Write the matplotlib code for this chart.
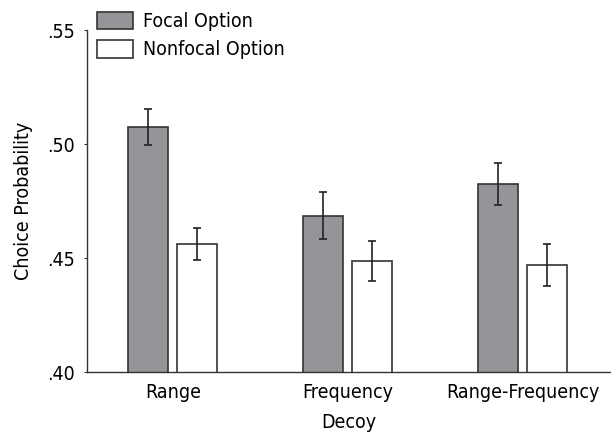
import matplotlib
matplotlib.use("Agg")
import matplotlib.pyplot as plt
import numpy as np
from matplotlib.patches import Patch

plt.rcParams['font.family'] = ['DejaVu Sans']
plt.rcParams['font.stretch'] = 'condensed'

decoys = ['Range', 'Frequency', 'Range-Frequency']
focal = [0.5075, 0.4686, 0.4826]
focal_err = [0.0080, 0.0103, 0.0092]
nonfocal = [0.4561, 0.4487, 0.4469]
nonfocal_err = [0.0070, 0.0086, 0.0091]
yticks = [0.40, 0.45, 0.50, 0.55]
ytick_labels = ['.40', '.45', '.50', '.55']

FS = 14

fig = plt.figure(figsize=(6.11, 4.38), dpi=100)
ax = fig.add_axes([87 / 611, 66 / 438, 524 / 611, 342 / 438])

x = np.arange(len(decoys))
w = 0.2286
off = 0.14
err_kw = dict(elinewidth=1.2, capthick=1.2, ecolor='#222222')
ax.bar(x - off, focal, w, yerr=focal_err, color='#939598', edgecolor='#333333',
       linewidth=1.2, capsize=3, error_kw=err_kw)
ax.bar(x + off, nonfocal, w, yerr=nonfocal_err, color='white', edgecolor='#333333',
       linewidth=1.2, capsize=3, error_kw=err_kw)

ax.set_ylim(0.40, 0.55)
ax.set_xlim(-0.491, 2.503)
ax.set_yticks(yticks)
ax.set_yticklabels(ytick_labels)
ax.set_xticks(x)
ax.set_xticklabels(decoys)
ax.tick_params(axis='y', length=2, width=0.8, color='#333333', labelsize=FS, pad=7)
ax.tick_params(axis='x', length=0, labelsize=FS, pad=8)
for s in ['top', 'right']:
    ax.spines[s].set_visible(False)
for s in ['left', 'bottom']:
    ax.spines[s].set_linewidth(1.0)
    ax.spines[s].set_color('#333333')

ax.set_xlabel('Decoy', fontsize=FS, labelpad=8)
ax.set_ylabel('Choice Probability', fontsize=FS, labelpad=10)

handles = [Patch(facecolor='#939598', edgecolor='#333333', linewidth=1.2),
           Patch(facecolor='white', edgecolor='#333333', linewidth=1.2)]
fig.legend(handles, ['Focal Option', 'Nonfocal Option'], loc='upper left',
           bbox_to_anchor=(97 / 611, 1 - 12 / 438), frameon=False, fontsize=FS,
           handlelength=1.85, handleheight=1.0, handletextpad=0.5,
           labelspacing=0.45, borderpad=0, borderaxespad=0)

fig.savefig('out.png', dpi=100)
